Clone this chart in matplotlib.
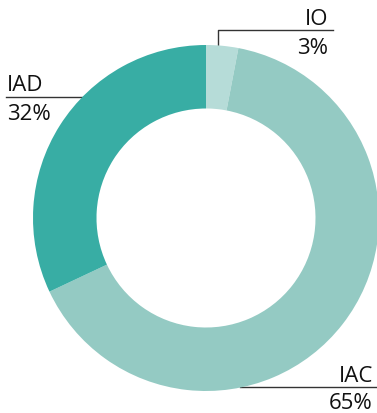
import matplotlib
matplotlib.use("Agg")
import matplotlib.pyplot as plt

plt.rcParams['font.family'] = ['Open Sans', 'DejaVu Sans']

labels = ["IO", "IAC", "IAD"]
shares = [3, 65, 32]
colors = ["#b6dcd8", "#94cac3", "#38ada4"]

W, H = 377, 414
fig = plt.figure(figsize=(W / 100, H / 100), dpi=100)
ax = fig.add_axes([0, 0, 1, 1])

cx, cy = 206, H - 219
R = 173
hole = 109.5

# leader lines drawn beneath the ring
line_kw = dict(color="#333333", lw=1.0, zorder=1)
ax.plot([218, 218, 333], [H - 47, H - 31, H - 31], **line_kw)
ax.plot([6, 90], [H - 98, H - 98], **line_kw)
ax.plot([240, 377], [H - 387.5, H - 387.5], **line_kw)

wedges, _ = ax.pie(shares, colors=colors, startangle=90, counterclock=False,
                   center=(cx, cy), radius=R,
                   wedgeprops=dict(width=R - hole, linewidth=0))
for w in wedges:
    w.set_zorder(2)
ax.set_xlim(0, W)
ax.set_ylim(0, H)
ax.set_aspect('equal')
ax.axis('off')

fs = 16
tc = "#111111"
pct = [f"{v}%" for v in shares]
ax.text(328, H - 25, labels[0], ha='right', va='baseline', fontsize=fs, color=tc)
ax.text(328, H - 54, pct[0], ha='right', va='baseline', fontsize=fs, color=tc)
ax.text(7, H - 91, labels[2], ha='left', va='baseline', fontsize=fs, color=tc)
ax.text(7, H - 120, pct[2], ha='left', va='baseline', fontsize=fs, color=tc)
ax.text(373, H - 382, labels[1], ha='right', va='baseline', fontsize=fs, color=tc)
ax.text(373, H - 409, pct[1], ha='right', va='baseline', fontsize=fs, color=tc)

fig.savefig("out.png", dpi=100)
